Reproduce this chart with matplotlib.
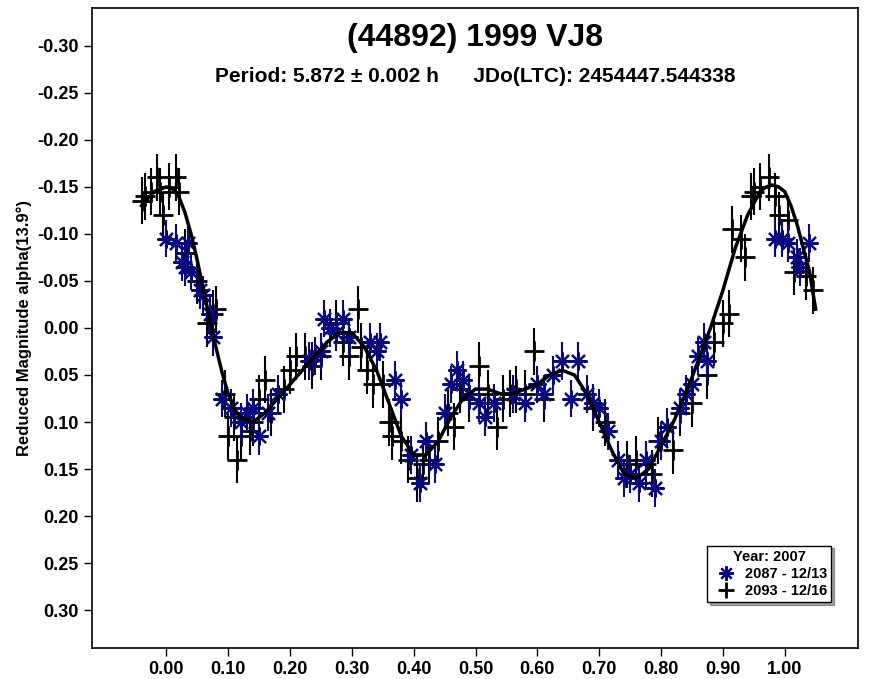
import matplotlib
matplotlib.use("Agg")
import matplotlib.pyplot as plt

plt.rcParams["font.family"] = "Liberation Sans"
plt.rcParams["font.weight"] = "bold"

curve_phase = [-0.04,-0.02,0.0,0.01,0.02,0.03,0.04,0.05,0.06,0.07,0.08,0.09,0.10,0.11,0.12,0.14,0.16,0.18,0.20,0.22,0.24,0.26,0.28,0.30,0.32,0.34,0.36,0.38,0.40,0.42,0.44,0.46,0.48,0.50,0.52,0.54,0.56,0.58,0.60,0.62,0.64,0.66,0.68,0.70,0.72,0.74,0.76,0.78,0.80,0.82,0.84,0.86,0.88,0.90,0.92,0.94,0.96,0.97,0.98,0.99,1.00,1.01,1.02,1.03,1.04,1.05]
curve_mag = [-0.13,-0.145,-0.15,-0.148,-0.14,-0.123,-0.10,-0.072,-0.04,-0.01,0.02,0.047,0.07,0.086,0.095,0.10,0.09,0.075,0.06,0.045,0.03,0.015,0.005,0.005,0.02,0.045,0.08,0.115,0.135,0.135,0.12,0.095,0.075,0.065,0.065,0.07,0.07,0.065,0.06,0.05,0.045,0.05,0.07,0.10,0.13,0.155,0.16,0.15,0.125,0.10,0.07,0.035,0.0,-0.04,-0.085,-0.12,-0.145,-0.15,-0.152,-0.15,-0.145,-0.13,-0.11,-0.085,-0.06,-0.02]

s2087_phase = [0.00,0.015,0.035,0.025,0.03,0.04,0.055,0.06,0.07,0.075,0.09,0.105,0.12,0.13,0.14,0.15,0.165,0.18,0.23,0.24,0.25,0.255,0.265,0.275,0.285,0.295,0.33,0.34,0.345,0.37,0.38,0.395,0.41,0.42,0.435,0.45,0.46,0.47,0.48,0.49,0.505,0.515,0.53,0.56,0.58,0.60,0.61,0.625,0.64,0.655,0.665,0.68,0.69,0.70,0.715,0.73,0.74,0.75,0.765,0.775,0.79,0.80,0.81,0.83,0.84,0.85,0.86,0.87,0.875,0.985,0.995,1.005,1.02,1.025,1.04]
s2087_mag = [-0.095,-0.09,-0.09,-0.07,-0.065,-0.06,-0.04,-0.035,-0.015,0.01,0.075,0.085,0.10,0.09,0.085,0.115,0.09,0.07,0.035,0.03,0.025,-0.01,0.0,0.005,-0.01,0.01,0.015,0.025,0.015,0.055,0.075,0.135,0.165,0.12,0.145,0.09,0.06,0.045,0.055,0.07,0.08,0.095,0.08,0.07,0.08,0.06,0.07,0.05,0.035,0.075,0.035,0.07,0.08,0.085,0.11,0.14,0.16,0.155,0.165,0.14,0.17,0.12,0.105,0.085,0.07,0.06,0.03,0.015,0.035,-0.095,-0.095,-0.09,-0.075,-0.065,-0.09]

s2093_phase = [-0.04,-0.035,-0.025,-0.015,-0.01,-0.005,0.005,0.015,0.02,0.03,0.05,0.065,0.075,0.08,0.095,0.10,0.11,0.12,0.115,0.135,0.14,0.15,0.16,0.17,0.19,0.2,0.21,0.225,0.235,0.25,0.275,0.285,0.295,0.31,0.315,0.325,0.335,0.35,0.36,0.365,0.38,0.39,0.405,0.415,0.425,0.44,0.455,0.465,0.475,0.49,0.505,0.52,0.535,0.545,0.555,0.565,0.58,0.595,0.61,0.69,0.71,0.745,0.76,0.775,0.785,0.795,0.82,0.83,0.85,0.875,0.885,0.9,0.91,0.915,0.93,0.935,0.945,0.95,0.96,0.975,0.985,0.99,1.005,1.015,1.035,1.045]
s2093_mag = [-0.135,-0.14,-0.145,-0.16,-0.145,-0.12,-0.15,-0.16,-0.145,-0.08,-0.05,-0.005,-0.015,-0.02,0.07,0.115,0.095,0.115,0.14,0.11,0.1,0.075,0.055,0.09,0.065,0.045,0.03,0.03,0.04,0.03,-0.005,0.015,0.03,-0.02,0.02,0.045,0.06,0.06,0.1,0.115,0.12,0.14,0.16,0.145,0.14,0.12,0.09,0.105,0.065,0.075,0.04,0.07,0.105,0.075,0.07,0.065,0.07,0.025,0.075,0.085,0.1,0.145,0.14,0.145,0.155,0.12,0.13,0.09,0.08,0.05,0.015,-0.005,-0.015,-0.105,-0.095,-0.075,-0.14,-0.145,-0.15,-0.16,-0.14,-0.12,-0.115,-0.06,-0.055,-0.04]

err_2087 = 0.02
err_2093 = 0.025

x_ticks = [0.0,0.1,0.2,0.3,0.4,0.5,0.6,0.7,0.8,0.9,1.0]
y_ticks = [-0.30,-0.25,-0.20,-0.15,-0.10,-0.05,0.00,0.05,0.10,0.15,0.20,0.25,0.30]

navy = "#0a0a80"
fig = plt.figure(figsize=(8.69, 6.79), dpi=100)
ax = fig.add_axes([0.106, 0.046, 0.881, 0.942])

ax.errorbar(s2093_phase, s2093_mag, yerr=err_2093, fmt="none", ecolor="black", elinewidth=1.5, zorder=2)
ax.plot(s2093_phase, s2093_mag, "+", color="black", ms=14, mew=2, zorder=3, label="2093 - 12/16")
ax.errorbar(s2087_phase, s2087_mag, yerr=err_2087, fmt="none", ecolor=navy, elinewidth=1.5, zorder=4)
ax.plot(s2087_phase, s2087_mag, linestyle="none", marker=(8, 2, 0), color=navy, ms=13, mew=1.6, zorder=5, label="2087 - 12/13")
ax.plot(curve_phase, curve_mag, color="black", lw=2.5, zorder=6)

ax.set_xlim(-0.12, 1.118)
ax.set_ylim(0.34, -0.34)
ax.set_xticks(x_ticks)
ax.set_xticklabels([f"{t:.2f}" for t in x_ticks], fontsize=13, fontweight="bold")
ax.set_yticks(y_ticks)
ax.set_yticklabels([f"{t:.2f}" for t in y_ticks], fontsize=13, fontweight="bold")
ax.tick_params(direction="out", length=6, width=1)
for s in ax.spines.values():
    s.set_linewidth(1.2)
ax.set_ylabel("Reduced Magnitude alpha(13.9°)", fontsize=12, fontweight="bold")

ax.text(0.5, 0.953, "(44892) 1999 VJ8", transform=ax.transAxes, ha="center", va="center", fontsize=23, fontweight="bold")
ax.text(0.5, 0.893, "Period: 5.872 ± 0.002 h      JDo(LTC): 2454447.544338", transform=ax.transAxes, ha="center", va="center", fontsize=15, fontweight="bold")

h, l = ax.get_legend_handles_labels()
leg = ax.legend(h[::-1], l[::-1], title="Year: 2007", loc="lower right", bbox_to_anchor=(0.975, 0.06),
                fontsize=10.5, title_fontsize=10.5, frameon=True, fancybox=False, shadow=True,
                edgecolor="black", borderpad=0.3, handletextpad=0.3, labelspacing=0.2, markerscale=0.8)
leg.get_title().set_fontweight("bold")
for t in leg.get_texts():
    t.set_fontweight("bold")

fig.savefig("out.png", dpi=100)
